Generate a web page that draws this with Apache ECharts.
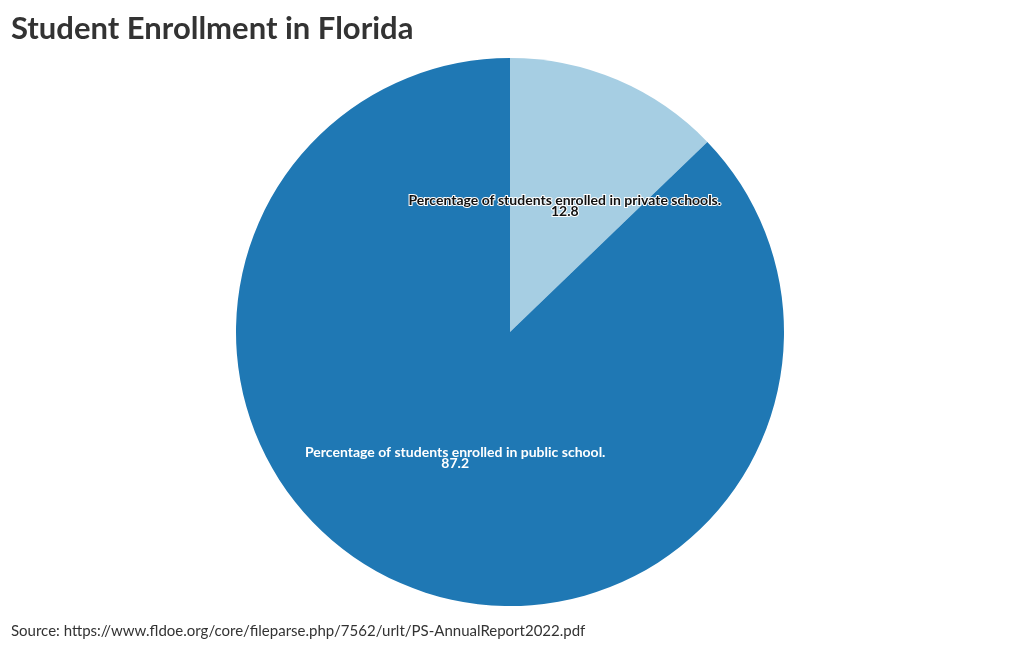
<!DOCTYPE html>
<html>
<head>
<meta charset="utf-8">
<script src="https://cdn.jsdelivr.net/npm/echarts@6/dist/echarts.min.js"></script>
<style>
html,body{margin:0;padding:0;background:#fff;}
#c{width:1020px;height:650px;}
</style>
</head>
<body>
<div id="c"></div>
<script>
const categories = ["Percentage of students enrolled in private schools.", "Percentage of students enrolled in public school."];
const values = [12.8, 87.2];
const colors = ["#a6cee3", "#1f78b4"];

const chart = echarts.init(document.getElementById('c'), null, {renderer: 'canvas'});
const data = categories.map((c, i) => ({
  name: c,
  value: values[i],
  itemStyle: {color: colors[i]},
  label: i === 0
    ? {color: '#111', textBorderColor: '#ffffff', textBorderWidth: 2, offset: [0, 3]}
    : {color: '#ffffff', textBorderColor: colors[1], textBorderWidth: 0, offset: [0, -3]}
}));
chart.setOption({
  animation: false,
  title: [{
    text: 'Student Enrollment in Florida',
    left: 6, top: 8,
    textStyle: {fontFamily: 'Lato', fontSize: 31, fontWeight: 'bold', color: '#333'}
  }, {
    text: 'Source: https://www.fldoe.org/core/fileparse.php/7562/urlt/PS-AnnualReport2022.pdf',
    left: 6, top: 619,
    textStyle: {fontFamily: 'Lato', fontSize: 15, fontWeight: 'normal', color: '#333'}
  }],
  series: [{
    type: 'pie',
    center: [510, 332],
    radius: [0, 274],
    startAngle: 90,
    clockwise: true,
    data: data,
    label: {
      position: 'inside',
      formatter: '{b}\n{c}',
      fontFamily: 'Lato',
      fontSize: 14,
      fontWeight: 'bold',
      lineHeight: 11,
      align: 'center'
    },
    labelLine: {show: false},
    emphasis: {disabled: true}
  }]
});
</script>
</body>
</html>
